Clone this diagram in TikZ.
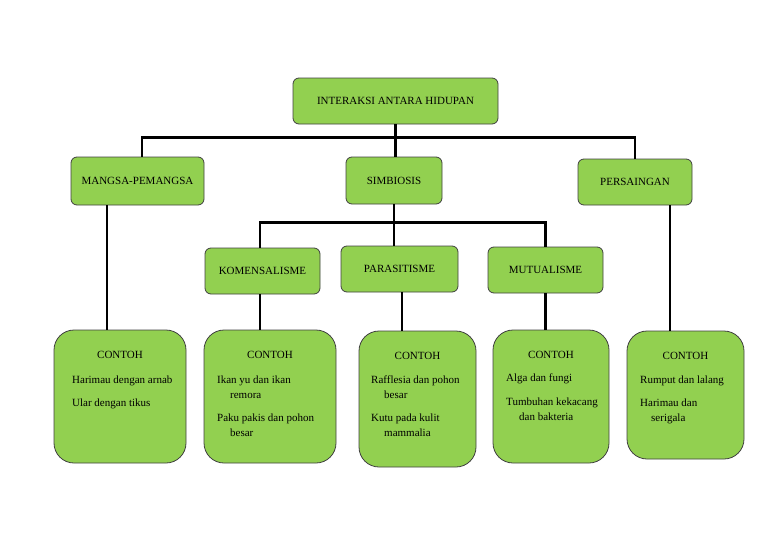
\documentclass[tikz,border=0pt]{standalone}
\usepackage{fontspec}
\setmainfont{Liberation Serif}
\usetikzlibrary{positioning}
\definecolor{leafgreen}{HTML}{92D050}

\begin{document}
\begin{tikzpicture}[
  x=1pt, y=-1pt,
  every node/.style={font=\fontsize{11}{15}\selectfont},
  topic/.style={draw=black!75, fill=leafgreen, rounded corners=6pt, line width=0.8pt, inner sep=0pt},
  examplebox/.style={draw=black!75, fill=leafgreen, rounded corners=20pt, line width=0.8pt, inner sep=0pt},
  itemlist/.style={anchor=north west, align=left, inner sep=0pt},
  branch/.style={line width=2.4pt}
]
\useasboundingbox (0,0) rectangle (768,543);

% --- Heading boxes ---
\node[topic,minimum width=205pt,minimum height=46pt] (root) at (395.5,101) {INTERAKSI ANTARA HIDUPAN};
\node[topic,minimum width=133pt,minimum height=48pt] (mangsa) at (137.5,181) {MANGSA-PEMANGSA};
\node[topic,minimum width=96pt,minimum height=47pt]  (simb) at (394,180.5) {SIMBIOSIS};
\node[topic,minimum width=114pt,minimum height=46pt] (saing) at (635,182) {PERSAINGAN};
\node[topic,minimum width=115pt,minimum height=46pt] (komen) at (262.5,271) {KOMENSALISME};
\node[topic,minimum width=117pt,minimum height=46pt] (para) at (399.5,269) {PARASITISME};
\node[topic,minimum width=115pt,minimum height=46pt] (mutu) at (545.5,270) {MUTUALISME};

% --- Example boxes ---
\node[examplebox,minimum width=132pt,minimum height=133pt] (c1) at (120,396.5) {};
\node[examplebox,minimum width=132pt,minimum height=133pt] (c2) at (270,396.5) {};
\node[examplebox,minimum width=117pt,minimum height=136pt] (c3) at (417.5,399) {};
\node[examplebox,minimum width=116pt,minimum height=133pt] (c4) at (551,396.5) {};
\node[examplebox,minimum width=117pt,minimum height=128pt] (c5) at (685.5,395) {};

\foreach \c in {c1,c2,c3,c4,c5}
  \node (t\c) at ([yshift=-25pt]\c.north) {CONTOH};

\node[itemlist] (i1) at (72,376) {Harimau dengan arnab\\[8pt]Ular dengan tikus};
\node[itemlist] (i2) at (217,376) {Ikan yu dan ikan\\\hspace*{13pt}remora\\[8pt]Paku pakis dan pohon\\\hspace*{13pt}besar};
\node[itemlist] (i3) at (371,376) {Rafflesia dan pohon\\\hspace*{13pt}besar\\[8pt]Kutu pada kulit\\\hspace*{13pt}mammalia};
\node[itemlist] (i4) at (506,374) {Alga dan fungi\\[9pt]Tumbuhan kekacang\\\hspace*{13pt}dan bakteria};
\node[itemlist] (i5) at (640,376) {Rumput dan lalang\\[8pt]Harimau dan\\\hspace*{11pt}serigala};

% --- Connectors ---
\draw[branch] (root.south) -- ++(0,13) coordinate (j1);
\draw[branch] ([xshift=4.5pt]mangsa.north) |- (j1) -| (saing.north);
\draw[branch] (j1) -- (j1 |- simb.north);
\draw[branch] (simb.south) -- ++(0,18) coordinate (j2);
\draw[branch] ([xshift=-2.5pt]komen.north) |- (j2) -| (mutu.north);
\draw[branch] (j2) -- (j2 |- para.north);

\draw[branch] ([xshift=-30.5pt]mangsa.south) -- ([xshift=-30.5pt]mangsa.south |- c1.north);
\draw[branch] ([xshift=-2.5pt]komen.south) -- ([xshift=-2.5pt]komen.south |- c2.north);
\draw[branch] ([xshift=2.5pt]para.south) -- ([xshift=2.5pt]para.south |- c3.north);
\draw[branch] (mutu.south) -- (mutu.south |- c4.north);
\draw[branch] ([xshift=35pt]saing.south) -- ([xshift=35pt]saing.south |- c5.north);
\end{tikzpicture}
\end{document}
